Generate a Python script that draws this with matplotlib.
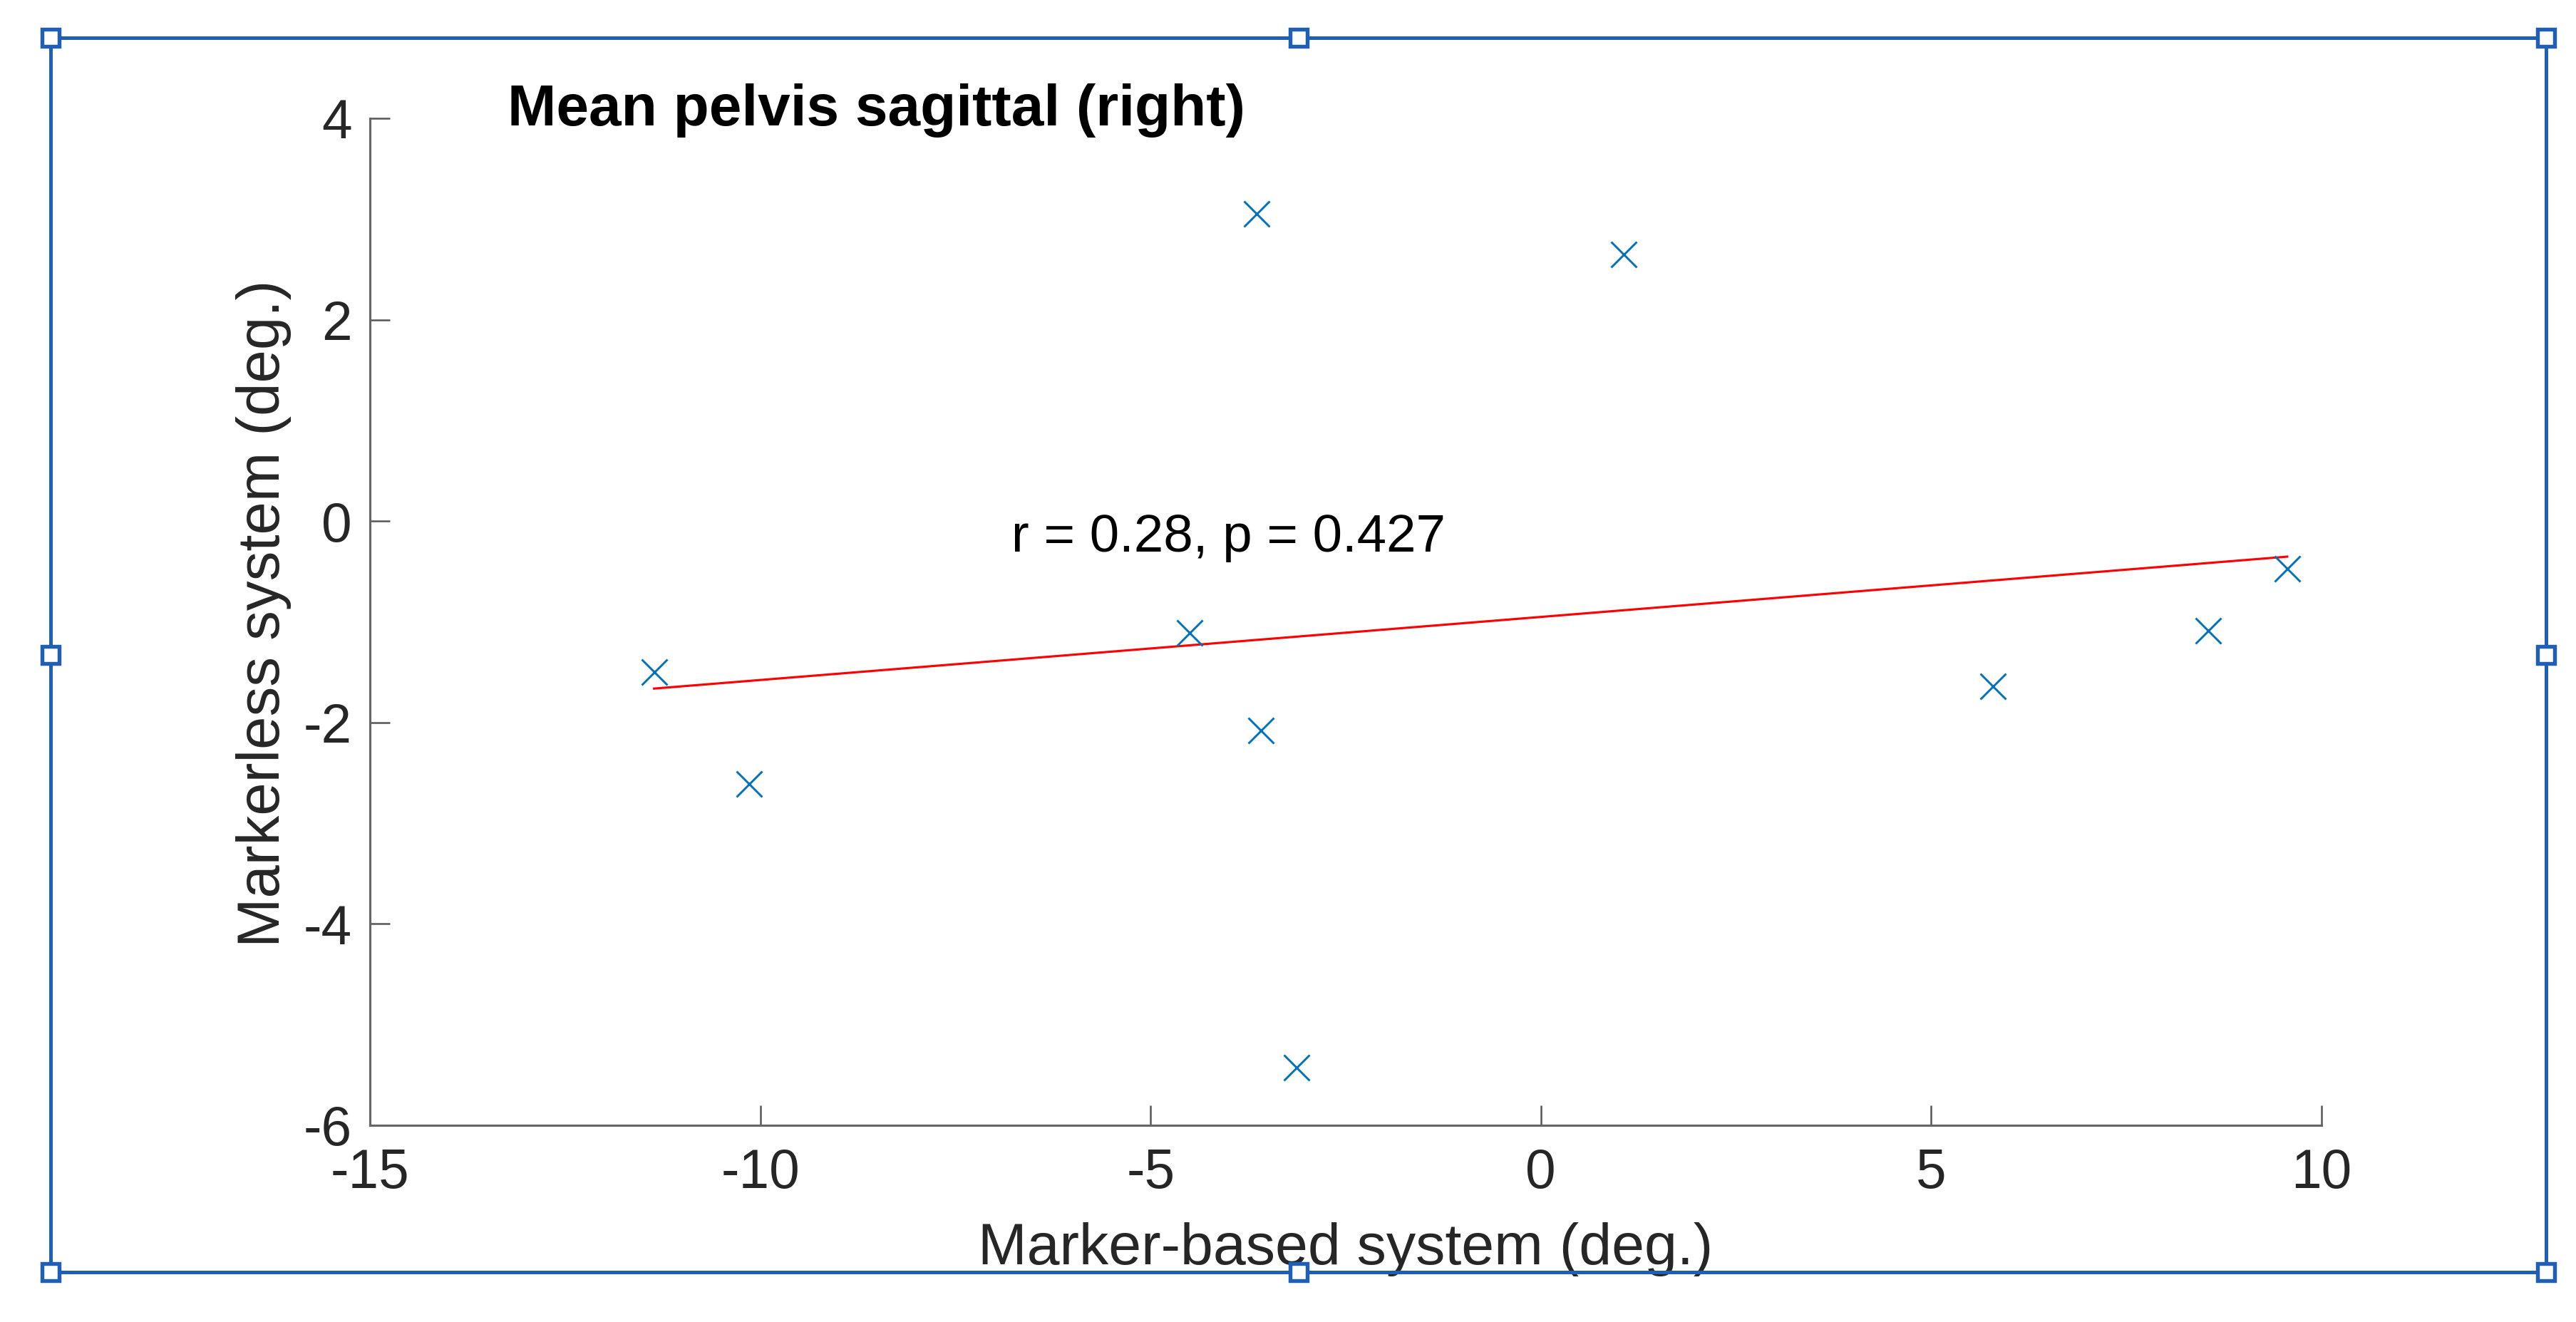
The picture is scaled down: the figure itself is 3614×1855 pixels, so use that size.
import matplotlib
matplotlib.use("Agg")
import matplotlib.pyplot as plt
from matplotlib.patches import Rectangle
from matplotlib.lines import Line2D
import numpy as np

plt.rcParams['font.family'] = ['Liberation Sans', 'DejaVu Sans']

# Data
marker_based = [-11.36, -10.14, -4.50, -3.64, -3.59, -3.13, 1.06, 5.79, 8.55, 9.56]
markerless = [-1.50, -2.61, -1.11, 3.05, -2.08, -5.43, 2.65, -1.64, -1.09, -0.47]
x_ticks = [-15, -10, -5, 0, 5, 10]
y_ticks = [-6, -4, -2, 0, 2, 4]
title_text = "Mean pelvis sagittal (right)"
stat_text = "r = 0.28, p = 0.427"
xlabel_text = "Marker-based system (deg.)"
ylabel_text = "Markerless system (deg.)"

W, H, DPI = 3614, 1855, 300
fig = plt.figure(figsize=(W / DPI, H / DPI), dpi=DPI)
ax = fig.add_axes([519 / W, 1 - 1579 / H, (3257 - 519) / W, (1579 - 166) / H])

x = np.array(marker_based)
y = np.array(markerless)
ax.plot(x, y, linestyle='none', marker='x', color='#0072BD',
        markersize=8.6, markeredgewidth=0.7, zorder=3)

slope, intercept = np.polyfit(x, y, 1)
xl = np.array([x.min(), x.max()])
ax.plot(xl, slope * xl + intercept, color='#FF0000', linewidth=0.75, zorder=2)

ax.set_xlim(-15, 10)
ax.set_ylim(-6, 4)
ax.set_xticks(x_ticks)
ax.set_yticks(y_ticks)
ax.set_xticklabels([str(t) for t in x_ticks])
ax.set_yticklabels([str(t) for t in y_ticks])

for s in ['top', 'right']:
    ax.spines[s].set_visible(False)
for s in ['left', 'bottom']:
    ax.spines[s].set_color('#666666')
    ax.spines[s].set_linewidth(0.75)

ax.tick_params(axis='both', direction='in', length=6.7, width=0.6,
               color='#555555', labelsize=18.4, labelcolor='#262626')
ax.tick_params(axis='x', pad=7.5)
ax.tick_params(axis='y', pad=6)

ax.set_xlabel(xlabel_text, fontsize=19.8, color='#262626')
ax.set_ylabel(ylabel_text, fontsize=20.0, color='#262626')
ax.xaxis.set_label_coords(0.5, -0.096)
ax.yaxis.set_label_coords(-0.040, 0.508)

ax.text(0.0705, 0.9929, title_text, transform=ax.transAxes, fontsize=19.7,
        fontweight='bold', color='black', ha='left', va='baseline')
ax.text(-6.78, -0.30, stat_text, fontsize=17.9, color='black',
        ha='left', va='baseline')

# Selection frame with handles
fc = '#1F5FB5'
L, R = 71 / W, 3572 / W
T, B = 1 - 53 / H, 1 - 1785 / H
fig.add_artist(Rectangle((L, B), R - L, T - B, transform=fig.transFigure,
                         fill=False, edgecolor=fc, linewidth=1.2, zorder=10))
hx = [L, (L + R) / 2, R]
hy = [B, (B + T) / 2, T]
for xx in hx:
    for yy in hy:
        if xx == (L + R) / 2 and yy == (B + T) / 2:
            continue
        fig.add_artist(Line2D([xx], [yy], transform=fig.transFigure, marker='s',
                              markersize=5.6, markerfacecolor='white',
                              markeredgecolor=fc, markeredgewidth=1.3,
                              linestyle='none', zorder=11))

fig.savefig('out.png', dpi=DPI, facecolor='white')
